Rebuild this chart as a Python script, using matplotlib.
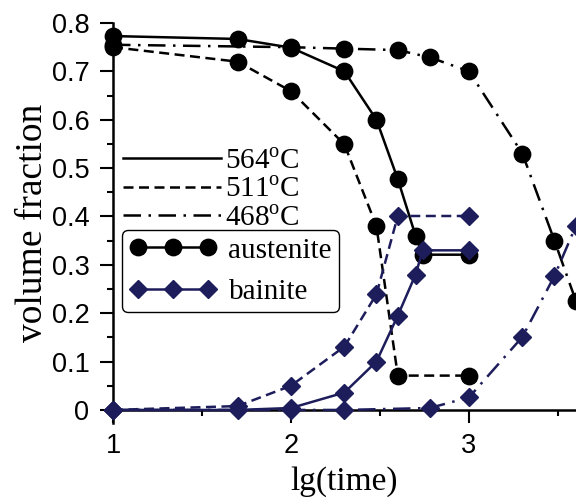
import matplotlib
matplotlib.use("Agg")
import matplotlib.pyplot as plt
from matplotlib.ticker import MultipleLocator
from matplotlib.lines import Line2D

NAVY = "#1e1d5c"
SERIF = "Liberation Serif"
SANS = "Liberation Sans"

plt.rcParams["mathtext.fontset"] = "custom"
plt.rcParams["mathtext.rm"] = SERIF

# lg(time) and volume fractions, per temperature
x_564 = [1.0, 1.7, 2.0, 2.3, 2.48, 2.6, 2.7, 2.74, 3.0]
aus_564 = [0.773, 0.767, 0.749, 0.700, 0.600, 0.477, 0.360, 0.321, 0.321]
bai_564 = [0.0, 0.0, 0.004, 0.036, 0.100, 0.195, 0.280, 0.330, 0.330]

x_511 = [1.0, 1.7, 2.0, 2.3, 2.48, 2.6, 3.0]
aus_511 = [0.750, 0.720, 0.659, 0.549, 0.380, 0.071, 0.071]
bai_511 = [0.0, 0.008, 0.050, 0.131, 0.239, 0.401, 0.401]

x_468_aus = [1.0, 2.0, 2.3, 2.6, 2.78, 3.0, 3.3, 3.48, 3.6]
aus_468 = [0.755, 0.750, 0.747, 0.744, 0.729, 0.700, 0.530, 0.350, 0.226]
x_468_bai = [1.0, 2.0, 2.3, 2.78, 3.0, 3.3, 3.48, 3.6]
bai_468 = [0.0, 0.0, 0.0, 0.004, 0.026, 0.151, 0.277, 0.380]

temps = ["564", "511", "468"]
y_ticks = [0, 0.1, 0.2, 0.3, 0.4, 0.5, 0.6, 0.7, 0.8]
y_tick_labels = ["0", "0.1", "0.2", "0.3", "0.4", "0.5", "0.6", "0.7", "0.8"]

LW = 1.8
DASHED = (4.0, 2.2)
DASHDOT = (7.0, 3.0, 1.0, 3.0)
CIRCLE_MS = 11.8
DIAMOND_MS = 9.4

fig = plt.figure(figsize=(5.76, 5.0), dpi=100)
ax = fig.add_axes([113 / 576, 1 - 423 / 500, 1 - 113 / 576, 400 / 500])

aus_kw = dict(color="black", marker="o", markersize=CIRCLE_MS, lw=LW, clip_on=False, zorder=3)
bai_kw = dict(color=NAVY, marker="D", markersize=DIAMOND_MS, lw=LW, clip_on=False, zorder=4)

ax.plot(x_564, aus_564, linestyle="-", **aus_kw)
ax.plot(x_511, aus_511, dashes=DASHED, **aus_kw)
ax.plot(x_468_aus, aus_468, dashes=DASHDOT, **aus_kw)

ax.plot(x_564, bai_564, linestyle="-", **bai_kw)
ax.plot(x_511, bai_511, dashes=DASHED, **bai_kw)
ax.plot(x_468_bai, bai_468, dashes=DASHDOT, **bai_kw)

ax.set_xlim(1, 1 + (576 - 113) / 178)
ax.set_ylim(-0.027, 0.8)

ax.spines["top"].set_visible(False)
ax.spines["right"].set_visible(False)
ax.spines["bottom"].set_position(("data", 0))
for s in ("left", "bottom"):
    ax.spines[s].set_linewidth(1.8)

ax.xaxis.set_major_locator(MultipleLocator(1))
ax.xaxis.set_minor_locator(MultipleLocator(0.5))
ax.yaxis.set_minor_locator(MultipleLocator(0.05))
ax.set_yticks(y_ticks)
ax.set_yticklabels(y_tick_labels)
ax.tick_params(which="major", direction="out", length=9.5, width=1.5)
ax.tick_params(axis="y", which="major", pad=7.5)
ax.tick_params(axis="x", which="major", pad=7)
ax.tick_params(which="minor", direction="out", length=4.5, width=1.5)
for lab in ax.get_xticklabels() + ax.get_yticklabels():
    lab.set_fontfamily(SANS)
    lab.set_fontsize(19.5)

ax.set_xlabel("lg(time)", fontfamily=SERIF, fontsize=24, labelpad=5)
ax.set_ylabel("volume fraction", fontfamily=SERIF, fontsize=27, labelpad=1)

# temperature legend (line styles only)
temp_handles = [
    Line2D([], [], color="black", lw=LW, linestyle="-"),
    Line2D([], [], color="black", lw=LW, dashes=DASHED),
    Line2D([], [], color="black", lw=LW, dashes=DASHDOT),
]
temp_labels = [t + r"$^{\mathrm{o}}$C" for t in temps]
leg1 = ax.legend(temp_handles, temp_labels, loc="upper left",
                 bbox_to_anchor=(123 / 576, 1 - 148 / 500), bbox_transform=fig.transFigure,
                 frameon=False, prop={"family": SERIF, "size": 21},
                 handlelength=3.35, handletextpad=0.15, labelspacing=0.07,
                 borderpad=0, borderaxespad=0)
ax.add_artist(leg1)

phase_handles = [
    Line2D([], [], color="black", lw=LW, marker="o", markersize=CIRCLE_MS),
    Line2D([], [], color=NAVY, lw=LW, marker="D", markersize=DIAMOND_MS),
]
leg2 = ax.legend(phase_handles, ["austenite", "bainite"], loc="upper left",
                 bbox_to_anchor=(122 / 576, 1 - 230 / 500), bbox_transform=fig.transFigure,
                 numpoints=3, prop={"family": SERIF, "size": 21},
                 handlelength=3.0, handletextpad=0.4, labelspacing=0.5,
                 borderpad=0.25, borderaxespad=0, fancybox=True,
                 edgecolor="black", framealpha=1)
leg2.get_frame().set_linewidth(1.0)

fig.savefig("out.png", dpi=100)
